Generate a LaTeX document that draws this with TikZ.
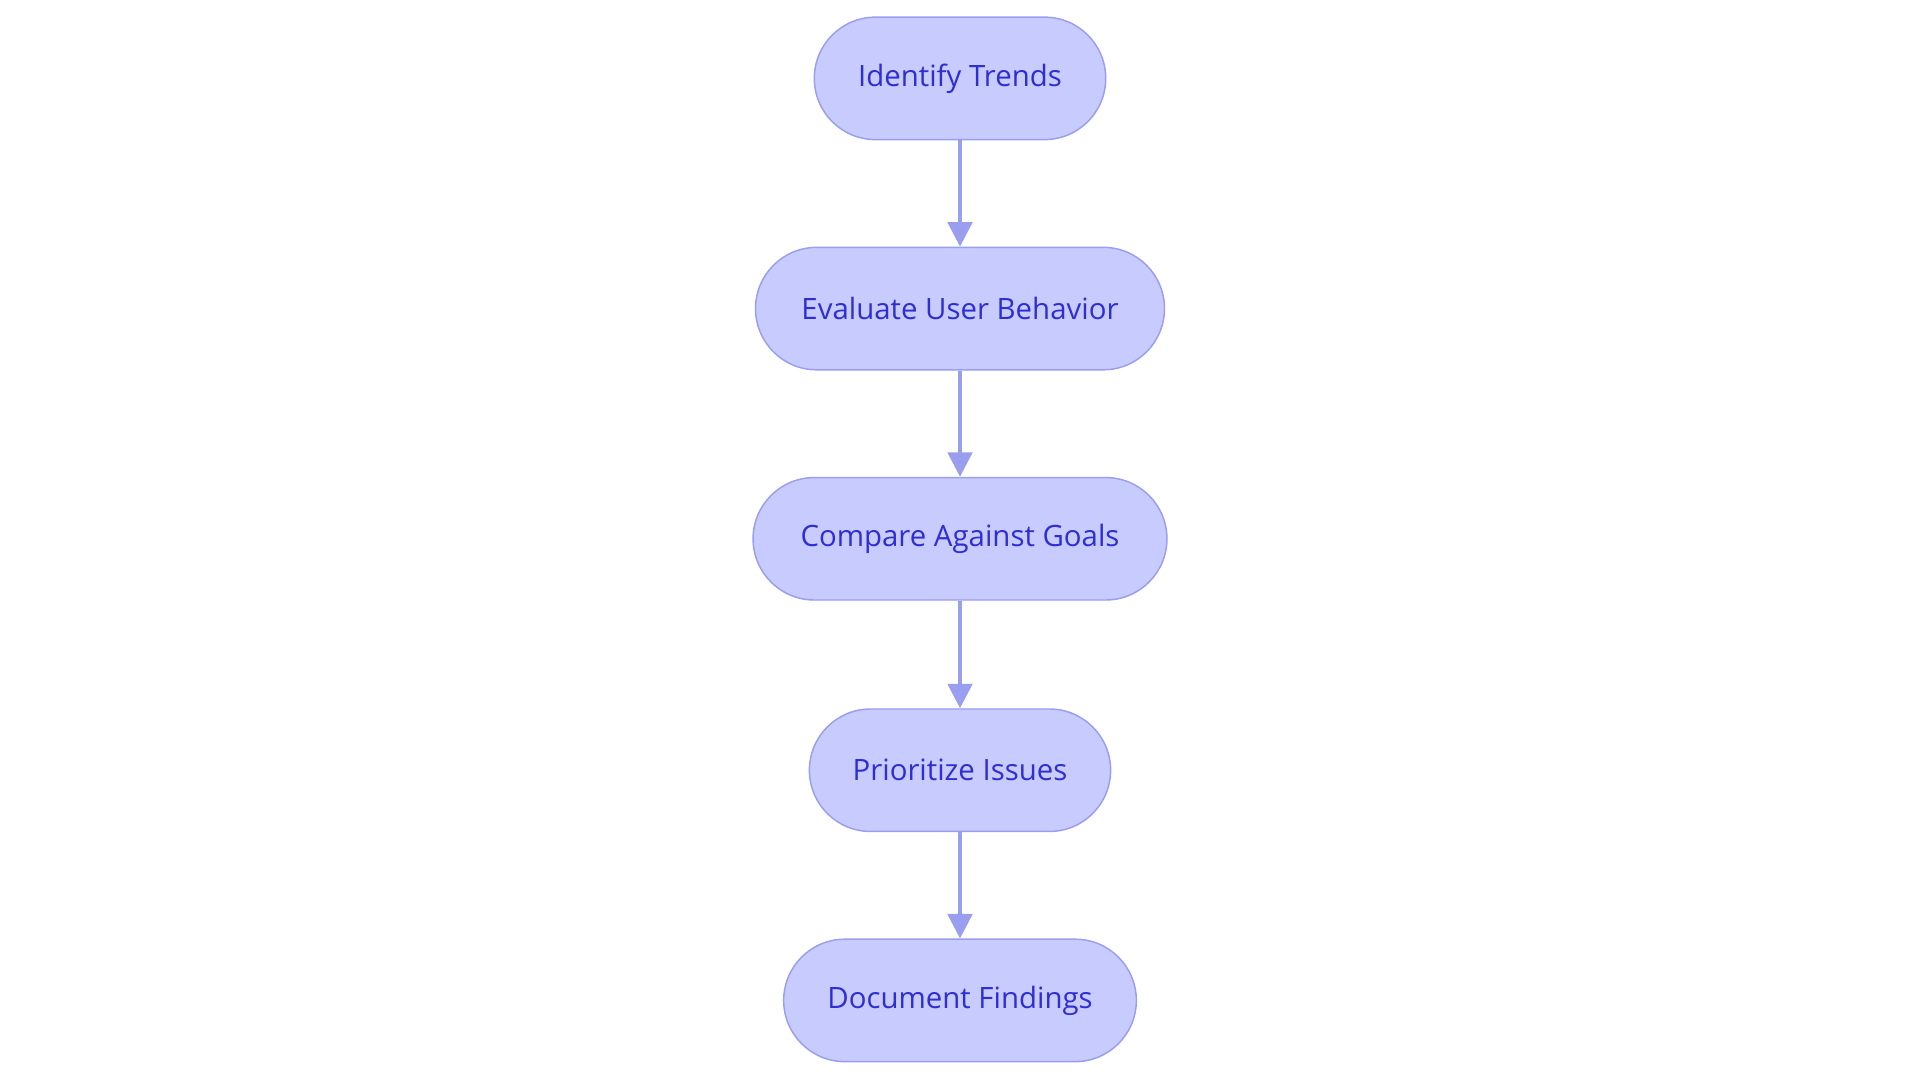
\documentclass[tikz,border=0pt]{standalone}
\usepackage{fontspec}
\setmainfont{Open Sans}
\usetikzlibrary{arrows.meta}
\definecolor{fillc}{HTML}{C8CBFD}
\definecolor{linec}{HTML}{9A9EF0}
\definecolor{textc}{HTML}{2E2ED2}
\tikzset{
  stepbox/.style={draw=linec,fill=fillc,line width=1.2pt,rounded corners=50pt,minimum height=100pt,text=textc,font=\fontsize{24}{28}\selectfont,inner sep=0pt},
  conn/.style={draw=linec,line width=3pt,-{Triangle[length=20pt,width=20pt]}}
}
\begin{document}
\begin{tikzpicture}[x=1pt,y=-1pt]
\useasboundingbox (0,0) rectangle (1568,884);
\node[stepbox,minimum width=238pt] (a) at (784,64) {Identify Trends};
\node[stepbox,minimum width=334pt] (b) at (784,252) {Evaluate User Behavior};
\node[stepbox,minimum width=338pt] (c) at (784,440) {Compare Against Goals};
\node[stepbox,minimum width=246pt] (d) at (784,629) {Prioritize Issues};
\node[stepbox,minimum width=288pt] (e) at (784,817) {Document Findings};
\draw[conn] (a) -- (b);
\draw[conn] (b) -- (c);
\draw[conn] (c) -- (d);
\draw[conn] (d) -- (e);
\end{tikzpicture}
\end{document}
